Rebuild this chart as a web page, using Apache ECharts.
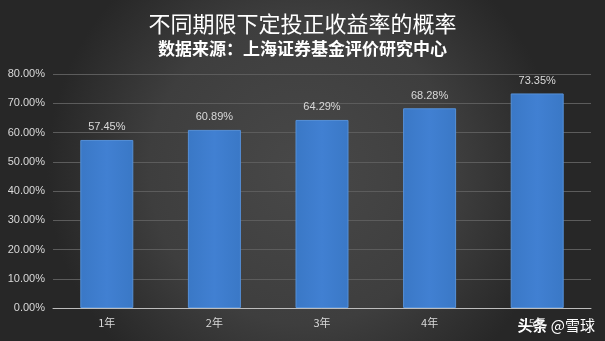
<!DOCTYPE html>
<html>
<head>
<meta charset="utf-8">
<script src="https://cdn.jsdelivr.net/npm/echarts@6/dist/echarts.min.js"></script>
<style>html,body{margin:0;padding:0;background:#333;}#c{width:605px;height:341px;}</style>
</head>
<body>
<div id="c"></div>
<script>
var categories = ['1年', '2年', '3年', '4年', '5年'];
var values = [57.45, 60.89, 64.29, 68.28, 73.35];
var yTicks = [0, 10, 20, 30, 40, 50, 60, 70, 80];

var chart = echarts.init(document.getElementById('c'), null, {renderer: 'canvas'});
var FONT = '"Noto Sans CJK SC", "Noto Sans", sans-serif';
chart.setOption({
  animation: false,
  backgroundColor: {
    type: 'radial', x: 0.5, y: 0.5, r: 0.75,
    colorStops: [{offset: 0, color: '#484848'}, {offset: 0.6, color: '#3e3e3e'}, {offset: 1, color: '#272727'}]
  },
  title: [{
    text: '不同期限下定投正收益率的概率',
    left: 'center', top: 8,
    textStyle: {color: '#ffffff', fontSize: 22, fontWeight: 'normal', fontFamily: FONT}
  }, {
    text: '数据来源：上海证券基金评价研究中心',
    left: 'center', top: 35,
    textStyle: {color: '#ffffff', fontSize: 17, fontWeight: 'bold', fontFamily: FONT}
  }],
  grid: {left: 53, right: 14, top: 74, bottom: 33, containLabel: false},
  xAxis: {
    type: 'category',
    data: categories,
    axisLine: {lineStyle: {color: '#bdbdbd', width: 1}},
    axisTick: {show: false},
    axisLabel: {color: '#d9d9d9', fontSize: 11, margin: 9, fontFamily: FONT}
  },
  yAxis: {
    type: 'value',
    min: yTicks[0], max: yTicks[yTicks.length - 1], interval: 10,
    axisLine: {show: false},
    axisTick: {show: false},
    splitLine: {lineStyle: {color: '#5c5c5c', width: 1}},
    axisLabel: {
      color: '#d9d9d9', fontSize: 11, margin: 8, fontFamily: '"Liberation Sans", sans-serif',
      formatter: function (v) { return v.toFixed(2) + '%'; }
    }
  },
  series: [{
    type: 'bar',
    data: values,
    barWidth: 53,
    itemStyle: {
      color: {
        type: 'linear', x: 0, y: 0, x2: 1, y2: 0,
        colorStops: [{offset: 0, color: '#3a78c6'}, {offset: 0.5, color: '#4180d2'}, {offset: 1, color: '#3a78c6'}]
      },
      borderColor: '#5590d8', borderWidth: 1
    },
    label: {
      show: true, position: 'top', distance: 7,
      color: '#d9d9d9', fontSize: 11, fontFamily: '"Liberation Sans", sans-serif',
      formatter: function (p) { return p.value.toFixed(2) + '%'; }
    }
  }],
  graphic: [{
    type: 'text', right: 10, bottom: 8,
    style: {
      text: '{a|头条} {b|@雪球}',
      rich: {
        a: {fill: '#ffffff', font: 'bold 15px "Noto Sans CJK SC", sans-serif'},
        b: {fill: '#ffffff', font: '15px "Noto Sans CJK SC", sans-serif'}
      }
    }
  }]
});
</script>
</body>
</html>
